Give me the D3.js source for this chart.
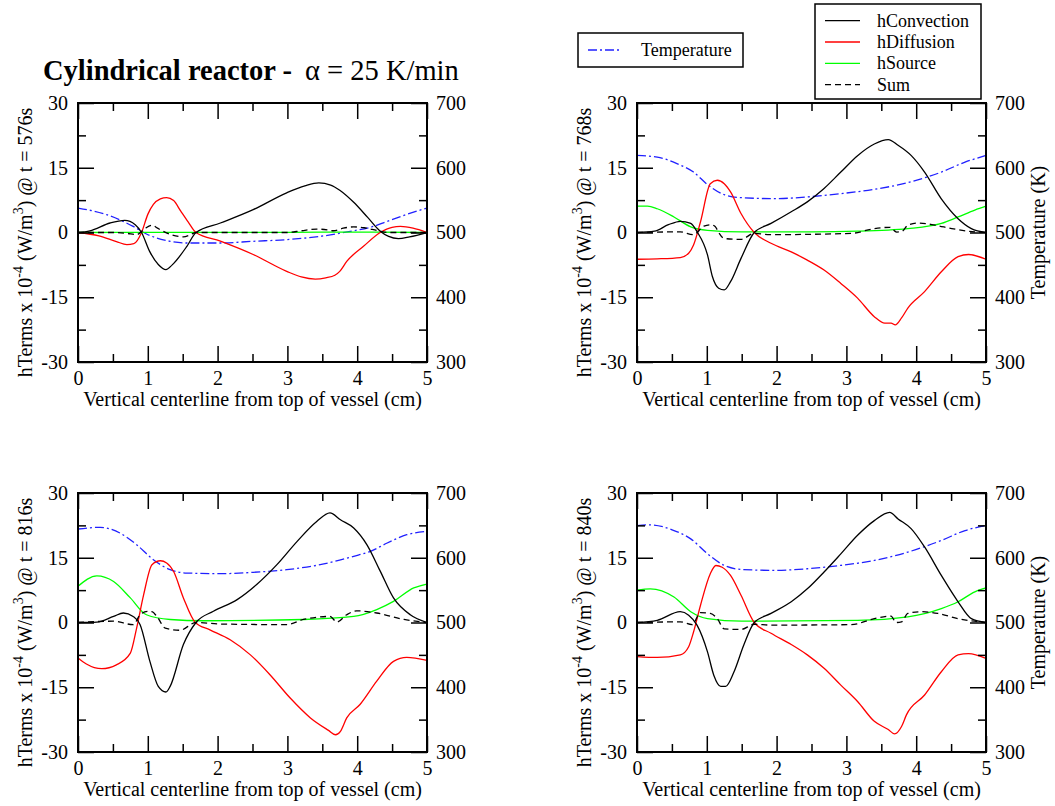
<!DOCTYPE html>
<html>
<head>
<meta charset="utf-8">
<script src="https://cdn.jsdelivr.net/npm/d3@7"></script>
<style>
  body { margin: 0; background: #fff; }
  svg { display: block; }
  text { font-family: "Liberation Serif", "Times New Roman", Times, serif; fill: #000; }
</style>
</head>
<body>
<svg id="chart" width="1055" height="806"></svg>
<script>
// Source-term profiles along the vertical centerline, [x (cm), value] pairs.
// hTerms in units of 1e-4 W/m^3; temperature in K.

// t = 576 s
const conv576 = [[0,0],[0.17,0.4],[0.46,2.2],[0.67,2.8],[0.82,1.8],[0.91,0],[1.03,-4.5],[1.15,-7.4],[1.26,-8.6],[1.35,-7.5],[1.56,-3.2],[1.69,0],[2.04,2.2],[2.51,5.3],[2.99,9.2],[3.25,10.8],[3.45,11.5],[3.62,11.0],[3.75,9.8],[3.95,7.0],[4.15,3.5],[4.33,0.3],[4.45,-0.9],[4.59,-1.4],[4.75,-1.0],[5,0]];
const diff576 = [[0,0],[0.3,-0.8],[0.55,-2.1],[0.7,-2.8],[0.8,-2.6],[0.91,0],[1.0,4.2],[1.08,6.5],[1.18,7.8],[1.27,8.1],[1.37,7.4],[1.47,5.0],[1.58,2.4],[1.69,0],[2.04,-2.0],[2.51,-5.1],[2.99,-9.0],[3.2,-10.3],[3.4,-10.8],[3.55,-10.5],[3.68,-9.9],[3.75,-9.0],[3.85,-6.7],[4.09,-3.2],[4.33,0],[4.5,1.2],[4.62,1.4],[4.8,1.0],[5,0]];
const src576 = [[0,0],[1,0.05],[2,0.05],[3,0.05],[4,0.08],[5,0]];
const sum576 = [[0,0],[0.5,0],[0.7,-0.2],[0.84,-0.5],[0.95,0.8],[1.06,1.7],[1.14,1.0],[1.22,0.3],[1.35,-0.6],[1.51,-1.0],[1.6,-0.6],[1.69,0],[2.0,0],[3.0,0],[3.2,0.4],[3.42,0.8],[3.58,0.6],[3.66,0.4],[3.8,1.0],[3.95,1.3],[4.1,1.1],[4.3,0.4],[4.45,0],[5,0]];
const temp576 = [[0,537.8],[0.41,527.5],[0.79,509.5],[0.98,497.7],[1.32,486.4],[1.56,483.8],[2.04,483.8],[2.51,486.4],[2.99,489],[3.47,494],[3.9,501.8],[4.19,508],[4.43,517.2],[4.67,526.5],[5,537.8]];

// t = 768 s
const conv768 = [[0,0],[0.25,0.3],[0.45,1.8],[0.62,2.6],[0.77,2.1],[0.86,0.2],[1.01,-5.2],[1.08,-10.2],[1.17,-12.9],[1.25,-13.3],[1.34,-11.4],[1.49,-6.0],[1.68,0],[1.92,2.1],[2.21,4.8],[2.44,7.1],[2.68,10.2],[2.92,14.0],[3.16,17.8],[3.4,20.5],[3.6,21.5],[3.74,20.2],[3.93,17.8],[4.12,14.0],[4.36,7.8],[4.6,3.2],[4.79,0.9],[5,0]];
const diff768 = [[0,-6.2],[0.29,-6.1],[0.62,-5.8],[0.74,-4.8],[0.81,-2.9],[0.91,2.5],[1.05,11.3],[1.15,12.1],[1.25,11.3],[1.34,9.4],[1.49,4.4],[1.68,0],[1.92,-2.5],[2.21,-4.5],[2.44,-6.4],[2.68,-8.7],[2.92,-11.8],[3.16,-15.2],[3.4,-19.5],[3.55,-21],[3.64,-21],[3.7,-21.4],[3.79,-19.8],[3.88,-17.5],[4.12,-13.7],[4.36,-9.1],[4.6,-5.6],[4.75,-5.1],[5,-6.2]];
const src768 = [[0,6.1],[0.15,6.1],[0.29,5.5],[0.53,3.6],[0.77,1.3],[1.01,0.5],[1.5,0.15],[2.5,0.15],[3.16,0.3],[3.88,0.9],[4.36,2.1],[4.6,3.6],[4.84,5.2],[5,6.1]];
const sum768 = [[0,0],[0.62,0.15],[0.81,-0.5],[0.96,1.5],[1.06,1.8],[1.12,1.4],[1.17,0],[1.25,-1.4],[1.49,-1.6],[1.68,-0.2],[1.9,-0.5],[3.07,-0.2],[3.4,0.9],[3.62,1.2],[3.72,0.1],[3.8,0.3],[3.88,1.7],[4.03,2.2],[4.27,1.7],[4.51,0.9],[4.84,0.15],[5,0]];
const temp768 = [[0,619],[0.29,616.4],[0.58,606],[0.81,593.3],[1.01,574],[1.25,558.5],[1.49,553.8],[1.97,552.3],[2.44,554.9],[2.92,560],[3.4,566.7],[3.88,577],[4.36,593.3],[4.7,608.7],[5,619]];

// t = 816 s
const conv816 = [[0,0],[0.27,0.1],[0.51,1.4],[0.65,2.2],[0.79,1.4],[0.89,-0.5],[1.03,-9.0],[1.15,-14.8],[1.26,-16.1],[1.32,-14.8],[1.51,-5.1],[1.69,0],[1.94,2.6],[2.28,5.3],[2.56,8.8],[2.85,13.4],[3.14,18.8],[3.42,23.4],[3.61,25.4],[3.76,23.8],[3.95,21.9],[4.14,18.0],[4.33,11.9],[4.52,5.7],[4.76,1.8],[5,0]];
const diff816 = [[0,-8.2],[0.12,-9.6],[0.34,-10.7],[0.55,-9.8],[0.75,-7.1],[0.84,-1.3],[0.94,6.4],[1.06,13.4],[1.18,14.3],[1.27,13.8],[1.37,11.8],[1.51,5.7],[1.68,0],[1.89,-1.7],[2.18,-4.0],[2.47,-7.5],[2.75,-12.1],[3.04,-17.5],[3.33,-22.1],[3.59,-25.0],[3.69,-26.0],[3.76,-25.2],[3.85,-22.1],[4.04,-19.0],[4.28,-13.6],[4.52,-9.0],[4.71,-8.1],[5,-8.8]];
const src816 = [[0,8.4],[0.27,10.8],[0.51,9.5],[0.75,5.7],[0.98,1.8],[1.32,0.7],[1.8,0.4],[3.23,0.7],[3.95,1.4],[4.28,3.0],[4.52,4.9],[4.81,8.0],[5,8.9]];
const sum816 = [[0,0],[0.51,0.3],[0.79,-0.5],[0.89,1.8],[1.0,2.6],[1.06,2.5],[1.13,1.4],[1.25,-1.3],[1.46,-1.8],[1.69,0],[2.04,-0.35],[2.99,-0.5],[3.23,0.7],[3.61,1.4],[3.71,0.1],[3.85,1.8],[3.99,2.7],[4.28,2.2],[4.67,0.7],[5,0]];
const temp816 = [[0,644.4],[0.32,647],[0.6,638.2],[0.84,620.2],[1.08,597],[1.32,581.6],[1.56,576.4],[2.04,575.4],[2.51,577.5],[2.99,581.6],[3.47,589.3],[3.95,602.2],[4.19,609.9],[4.43,622.8],[4.71,635.6],[5,640.8]];

// t = 840 s
const conv840 = [[0,0],[0.29,0.5],[0.62,2.5],[0.74,1.7],[0.86,-0.6],[1.01,-6.8],[1.1,-12.2],[1.2,-14.8],[1.27,-14.8],[1.39,-11.4],[1.53,-5.2],[1.68,0],[1.92,2.1],[2.21,4.8],[2.44,7.8],[2.68,11.7],[2.92,15.9],[3.16,20.2],[3.4,23.6],[3.62,25.5],[3.74,24.0],[3.93,21.7],[4.12,17.5],[4.36,10.9],[4.6,4.8],[4.79,0.9],[5,0]];
const diff840 = [[0,-7.9],[0.29,-8.1],[0.62,-7.5],[0.74,-5.6],[0.81,-2.2],[0.91,4.0],[1.05,11.3],[1.13,13.2],[1.22,12.8],[1.34,10.9],[1.49,6.3],[1.68,0],[1.92,-2.5],[2.21,-5.1],[2.44,-7.5],[2.68,-10.6],[2.92,-14.5],[3.16,-18.3],[3.4,-22.9],[3.6,-24.8],[3.69,-25.8],[3.79,-24.1],[3.86,-21.4],[4.12,-16.8],[4.36,-11.4],[4.6,-7.5],[4.75,-7.2],[5,-8.3]];
const src840 = [[0,7.5],[0.19,7.8],[0.53,5.9],[0.77,2.5],[1.01,0.9],[1.5,0.3],[3.16,0.5],[3.88,1.3],[4.36,3.2],[4.6,4.8],[4.84,7.1],[5,8.0]];
const sum840 = [[0,0],[0.62,0.15],[0.79,-0.5],[0.91,2.3],[1.05,2.1],[1.15,0.9],[1.25,-1.5],[1.49,-1.6],[1.68,-0.4],[1.92,-0.6],[3.07,-0.5],[3.4,0.9],[3.64,1.5],[3.71,0],[3.79,0.15],[3.88,2.1],[4.07,2.5],[4.31,2.1],[4.6,0.9],[5,0]];
const temp840 = [[0,649.7],[0.19,650.8],[0.53,642],[0.77,629.2],[1.01,606.2],[1.25,588.2],[1.49,582],[1.97,580.5],[2.44,583],[2.92,588.2],[3.4,595.9],[3.88,608.7],[4.36,626.7],[4.7,642],[5,649.7]];

// Axis ticks
const xMajor = [0, 1, 2, 3, 4, 5];
const xMinor = [0.5, 1.5, 2.5, 3.5, 4.5];
const hMajor = [-30, -15, 0, 15, 30];
const hMinor = [-22.5, -7.5, 7.5, 22.5];
const tMajor = [300, 400, 500, 600, 700];
const tMinor = [350, 450, 550, 650];

const times = ["576s", "768s", "816s", "840s"];
const seriesNames = ["hConvection", "hDiffusion", "hSource", "Sum"];

const W = 349, H = 259;
const panels = [
  { t: times[0], x: 78,  y: 103, conv: conv576, diff: diff576, src: src576, sum: sum576, temp: temp576, tLabel: false },
  { t: times[1], x: 637, y: 103, conv: conv768, diff: diff768, src: src768, sum: sum768, temp: temp768, tLabel: true },
  { t: times[2], x: 78,  y: 493, conv: conv816, diff: diff816, src: src816, sum: sum816, temp: temp816, tLabel: false },
  { t: times[3], x: 637, y: 493, conv: conv840, diff: diff840, src: src840, sum: sum840, temp: temp840, tLabel: true }
];

const styles = {
  conv: { color: "#000000", dash: null },
  diff: { color: "#ff0000", dash: null },
  src:  { color: "#00ff00", dash: null },
  sum:  { color: "#000000", dash: "6,4" },
  temp: { color: "#2020ff", dash: "9,3,2,3" }
};

const SERIF = '"Liberation Serif", "Times New Roman", Times, serif';
const svg = d3.select("#chart");
const AX = 20;   // axis text size
const LG = 18;   // legend text size

const x = d3.scaleLinear().domain([0, 5]).range([0, W]);
const yH = d3.scaleLinear().domain([-30, 30]).range([H, 0]);
const yT = d3.scaleLinear().domain([300, 700]).range([H, 0]);

function drawAxis(g, axis) {
  g.call(axis);
  g.attr("font-family", null).attr("font-size", null);
  g.select(".domain").remove();
  g.selectAll(".tick line").attr("stroke", "#000").attr("stroke-width", 1.5);
  g.selectAll(".tick text").style("font-family", SERIF).style("font-size", AX + "px").attr("fill", "#000");
}

panels.forEach(p => {
  const g = svg.append("g").attr("transform", `translate(${p.x},${p.y})`);

  // curves
  const lineH = d3.line().x(d => x(d[0])).y(d => yH(d[1])).curve(d3.curveMonotoneX);
  const lineT = d3.line().x(d => x(d[0])).y(d => yT(d[1])).curve(d3.curveMonotoneX);
  const plot = g.append("g");
  plot.append("path").datum(p.temp).attr("d", lineT).attr("fill", "none")
    .attr("stroke", styles.temp.color).attr("stroke-width", 1.3).attr("stroke-dasharray", styles.temp.dash);
  plot.append("path").datum(p.src).attr("d", lineH).attr("fill", "none")
    .attr("stroke", styles.src.color).attr("stroke-width", 1.3);
  plot.append("path").datum(p.diff).attr("d", lineH).attr("fill", "none")
    .attr("stroke", styles.diff.color).attr("stroke-width", 1.3);
  plot.append("path").datum(p.sum).attr("d", lineH).attr("fill", "none")
    .attr("stroke", styles.sum.color).attr("stroke-width", 1.3).attr("stroke-dasharray", styles.sum.dash);
  plot.append("path").datum(p.conv).attr("d", lineH).attr("fill", "none")
    .attr("stroke", styles.conv.color).attr("stroke-width", 1.3);

  // axes with inward ticks on all four sides
  const fmt = d => String(d);
  drawAxis(g.append("g").attr("transform", `translate(0,${H})`),
    d3.axisBottom(x).tickValues(xMajor).tickSize(-16).tickPadding(9).tickFormat(fmt));
  drawAxis(g.append("g").attr("transform", `translate(0,${H})`),
    d3.axisBottom(x).tickValues(xMinor).tickSize(-8).tickFormat(""));
  drawAxis(g.append("g"), d3.axisTop(x).tickValues(xMajor).tickSize(-16).tickFormat(""));
  drawAxis(g.append("g"), d3.axisTop(x).tickValues(xMinor).tickSize(-8).tickFormat(""));
  drawAxis(g.append("g"), d3.axisLeft(yH).tickValues(hMajor).tickSize(-16).tickPadding(10).tickFormat(fmt));
  drawAxis(g.append("g"), d3.axisLeft(yH).tickValues(hMinor).tickSize(-8).tickFormat(""));
  drawAxis(g.append("g").attr("transform", `translate(${W},0)`),
    d3.axisRight(yT).tickValues(tMajor).tickSize(-16).tickPadding(9).tickFormat(fmt));
  drawAxis(g.append("g").attr("transform", `translate(${W},0)`),
    d3.axisRight(yT).tickValues(tMinor).tickSize(-8).tickFormat(""));

  // frame
  g.append("rect").attr("width", W).attr("height", H)
    .attr("fill", "none").attr("stroke", "#000").attr("stroke-width", 2);

  // x label
  g.append("text").attr("x", W / 2).attr("y", H + 44).attr("text-anchor", "middle")
    .style("font-size", AX + "px").text("Vertical centerline from top of vessel (cm)");

  // left label with superscripts
  const yl = g.append("text").attr("transform", `translate(-46,${H / 2 + 10}) rotate(-90)`)
    .attr("text-anchor", "middle").style("font-size", AX + "px");
  yl.append("tspan").text("hTerms x 10");
  yl.append("tspan").attr("dy", -9).style("font-size", "14px").text("-4");
  yl.append("tspan").attr("dy", 9).text(" (W/m");
  yl.append("tspan").attr("dy", -9).style("font-size", "14px").text("3");
  yl.append("tspan").attr("dy", 9).text(`) @ t = ${p.t}`);

  if (p.tLabel) {
    g.append("text").attr("transform", `translate(${W + 59},${H / 2}) rotate(-90)`)
      .attr("text-anchor", "middle").style("font-size", AX + "px").text("Temperature (K)");
  }
});

// title
svg.append("text").attr("x", 43).attr("y", 80).style("font-size", "28.5px").attr("font-weight", "bold")
  .text("Cylindrical reactor -");
svg.append("text").attr("x", 305).attr("y", 80).style("font-size", "28.5px")
  .text("\u03B1 = 25 K/min");

// temperature legend
const legT = svg.append("g");
legT.append("rect").attr("x", 578).attr("y", 33).attr("width", 165).attr("height", 34)
  .attr("fill", "#fff").attr("stroke", "#000").attr("stroke-width", 1.5);
legT.append("line").attr("x1", 588).attr("x2", 621).attr("y1", 50).attr("y2", 50)
  .attr("stroke", styles.temp.color).attr("stroke-width", 1.3).attr("stroke-dasharray", styles.temp.dash);
legT.append("text").attr("x", 641).attr("y", 55.5).style("font-size", LG + "px").text("Temperature");

// hTerms legend
const leg = svg.append("g");
leg.append("rect").attr("x", 815).attr("y", 4).attr("width", 166).attr("height", 95)
  .attr("fill", "#fff").attr("stroke", "#000").attr("stroke-width", 1.5);
const legKeys = ["conv", "diff", "src", "sum"];
legKeys.forEach((k, i) => {
  const ly = 20.7 + i * 21.3;
  leg.append("line").attr("x1", 825).attr("x2", 860).attr("y1", ly).attr("y2", ly)
    .attr("stroke", styles[k].color).attr("stroke-width", 1.3).attr("stroke-dasharray", styles[k].dash);
  leg.append("text").attr("x", 877).attr("y", ly + 6).style("font-size", LG + "px").text(seriesNames[i]);
});
</script>
</body>
</html>
